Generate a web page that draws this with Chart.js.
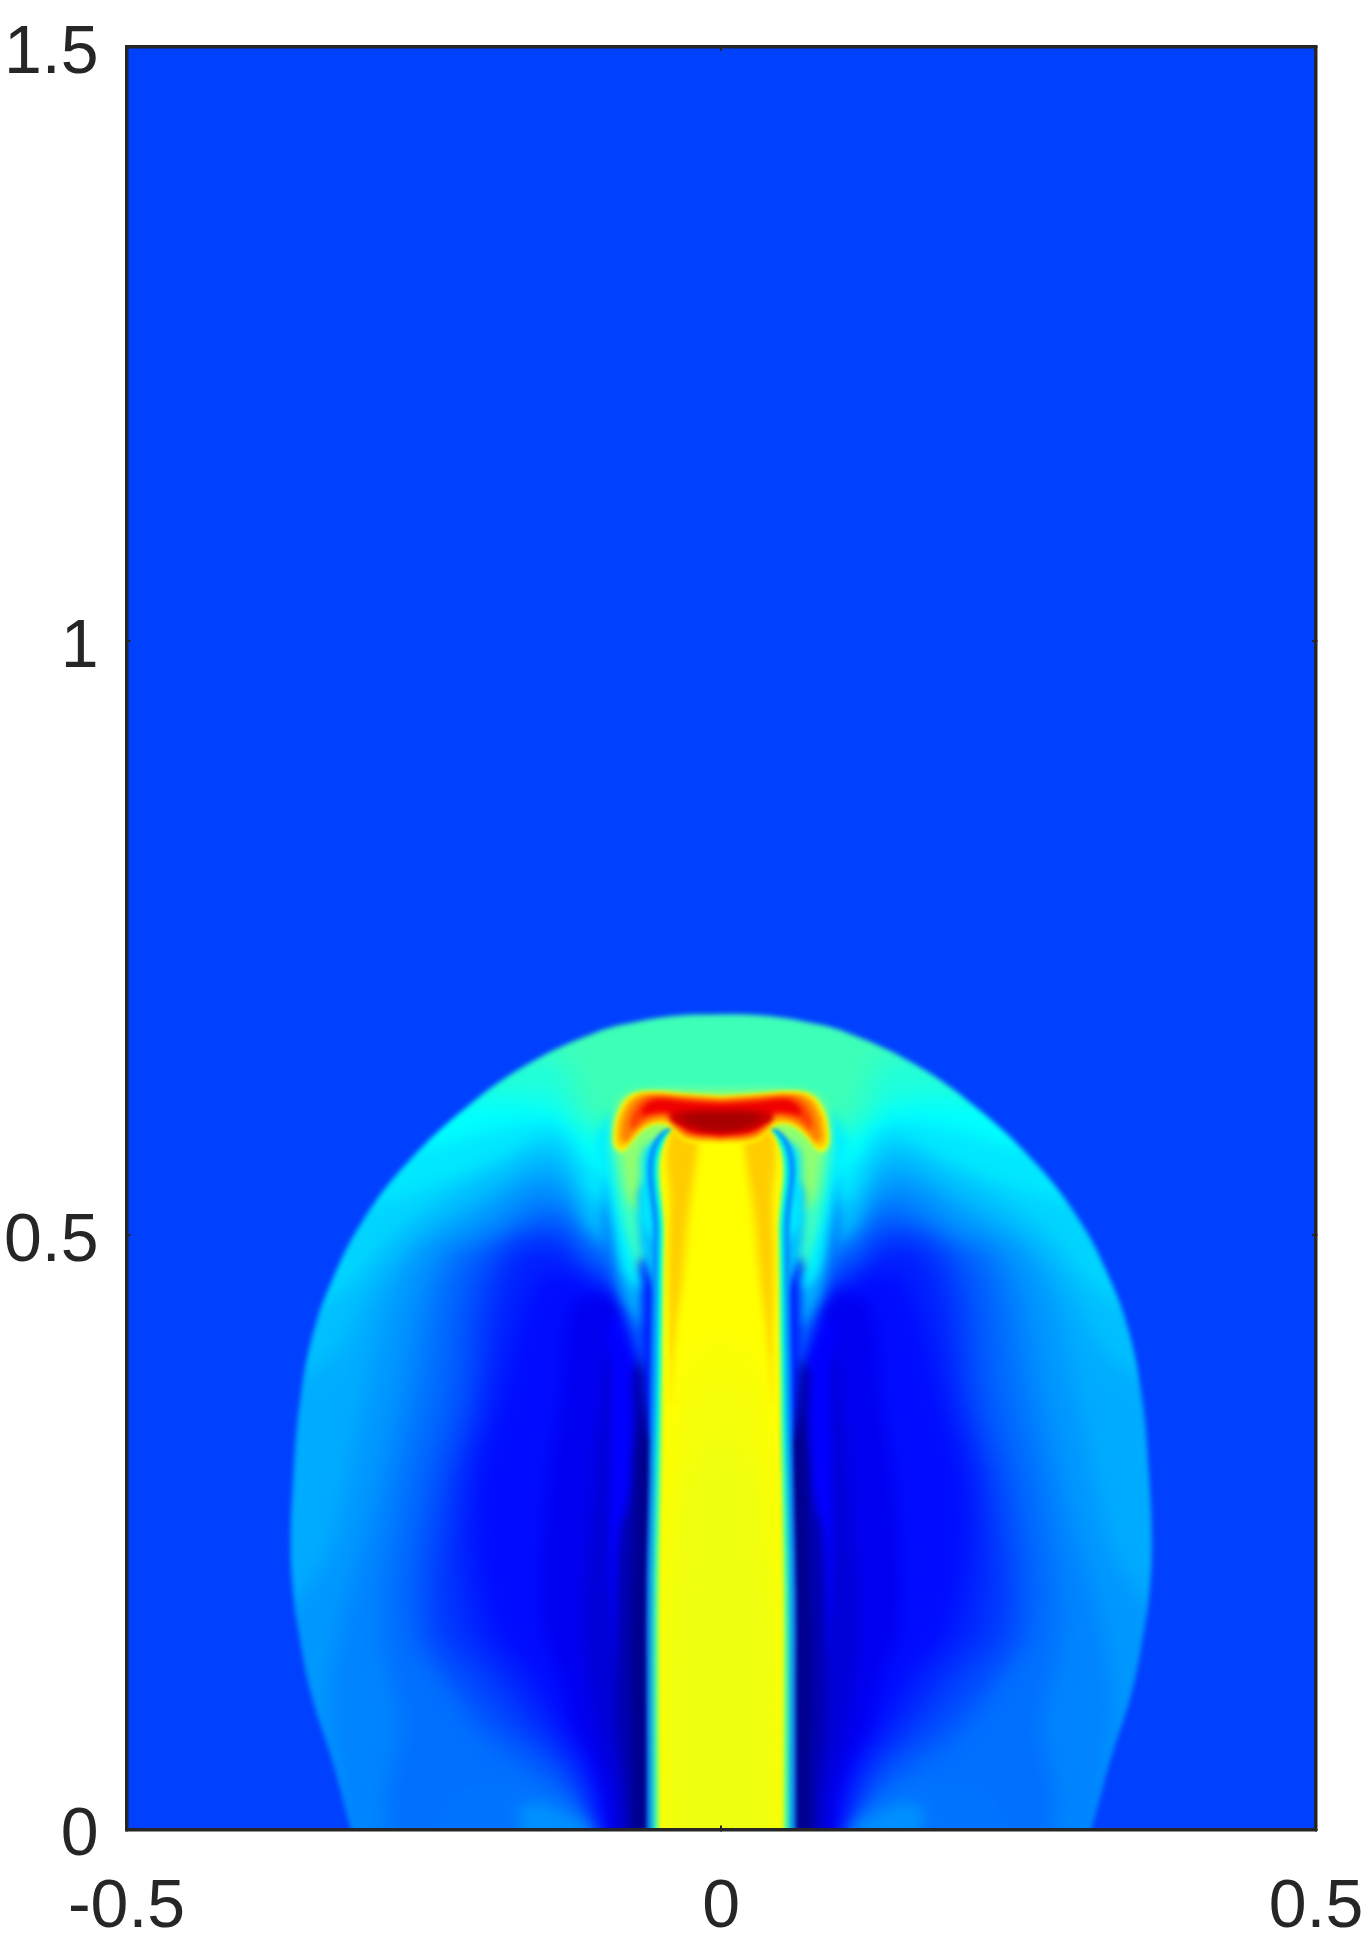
<!DOCTYPE html>
<html>
<head>
<meta charset="utf-8">
<style>
  html, body { margin: 0; padding: 0; background: #fff; }
  #wrap { width: 1369px; height: 1940px; }
</style>
<script src="https://cdn.jsdelivr.net/npm/chart.js@4"></script>
</head>
<body>
<div id="wrap"><canvas id="myChart"></canvas></div>
<script>
// tick labels
const xTicks = [-0.5, 0, 0.5];
const yTicks = [0, 0.5, 1, 1.5];

// contours: half width from the axis (R) and height (Y)
const fieldR = [0.6, 0.6, 0.6, 0.6];
const fieldY = [-0.1, 0.7, 1.6, 1.6];

const shockR = [0.300, 0.311, 0.327, 0.345, 0.356, 0.360, 0.362, 0.3595, 0.354, 0.343, 0.326, 0.301, 0.264, 0.214, 0.161, 0.105, 0.07, 0.035, 0];
const shockY = [-0.03, 0, 0.058, 0.115, 0.17, 0.2, 0.24, 0.30, 0.3615, 0.418, 0.465, 0.513, 0.561, 0.608, 0.645, 0.671, 0.68, 0.685, 0.686];

// path of the levels outside the shock, the field is painted back over it
const edgeR = [0.32, 0.331, 0.347, 0.363, 0.374, 0.382, 0.381, 0.374, 0.363, 0.346, 0.321, 0.284, 0.234, 0.181];
const edgeY = [-0.03, 0, 0.058, 0.115, 0.162, 0.232, 0.277, 0.3615, 0.418, 0.465, 0.513, 0.561, 0.608, 0.645];

const lv1R = edgeR.concat([0.14, 0.125, 0.115, 0.06, 0]);
const lv1Y = edgeY.concat([0.65, 0.63, 0.60, 0.58, 0.57]);
const lv2R = edgeR.slice(0, 13).concat([0.185, 0.16, 0.142, 0.122, 0.06, 0]);
const lv2Y = edgeY.slice(0, 13).concat([0.615, 0.613, 0.61, 0.59, 0.56, 0.55]);
const lv3R = edgeR.slice(0, 12).concat([0.225, 0.19, 0.142, 0.125, 0.11, 0]);
const lv3Y = edgeY.slice(0, 12).concat([0.58, 0.59, 0.595, 0.58, 0.56, 0.53]);
const lv4R = edgeR.slice(0, 11).concat([0.262, 0.22, 0.18, 0.142, 0.12, 0.105, 0]);
const lv4Y = edgeY.slice(0, 11).concat([0.535, 0.55, 0.567, 0.584, 0.56, 0.53, 0.5]);
const lv5R = edgeR.slice(0, 9).concat([0.31, 0.275, 0.235, 0.195, 0.142, 0.112, 0]);
const lv5Y = edgeY.slice(0, 9).concat([0.46, 0.50, 0.53, 0.552, 0.572, 0.53, 0.48]);
const lv6R = edgeR.slice(0, 8).concat([0.325, 0.295, 0.262, 0.22, 0.18, 0.142, 0.108, 0]);
const lv6Y = edgeY.slice(0, 8).concat([0.40, 0.45, 0.49, 0.52, 0.54, 0.56, 0.50, 0.45]);
const lv7R = edgeR.slice(0, 5).concat([0.332, 0.318, 0.30, 0.265, 0.21, 0.142, 0.105, 0]);
const lv7Y = edgeY.slice(0, 5).concat([0.23, 0.277, 0.36, 0.474, 0.515, 0.548, 0.48, 0.42]);
const lv8R = [0.30, 0.32, 0.325, 0.33, 0.32, 0.305, 0.29, 0.272, 0.245, 0.2, 0.142, 0.1, 0];
const lv8Y = [-0.03, 0.02, 0.06, 0.1, 0.171, 0.225, 0.277, 0.36, 0.474, 0.505, 0.535, 0.46, 0.40];
const lv9R = [0.275, 0.28, 0.27, 0.285, 0.273, 0.255, 0.231, 0.19, 0.142, 0.115, 0];
const lv9Y = [-0.03, 0.03, 0.087, 0.171, 0.277, 0.36, 0.474, 0.50, 0.525, 0.5, 0.44];
const lv10R = [0.11, 0.12, 0.16, 0.2, 0.23, 0.262, 0.255, 0.236, 0.217, 0.18, 0.142, 0.115, 0];
const lv10Y = [-0.03, 0.02, 0.05, 0.08, 0.12, 0.171, 0.277, 0.36, 0.474, 0.495, 0.515, 0.49, 0.43];
const lv11R = [0.105, 0.115, 0.15, 0.186, 0.225, 0.247, 0.24, 0.219, 0.2, 0.142, 0.115, 0];
const lv11Y = [-0.03, 0.02, 0.06, 0.087, 0.13, 0.171, 0.277, 0.36, 0.474, 0.505, 0.48, 0.42];
const lv12R = [0.1, 0.11, 0.135, 0.165, 0.2, 0.234, 0.228, 0.207, 0.188, 0.142, 0.115, 0];
const lv12Y = [-0.03, 0.02, 0.06, 0.087, 0.13, 0.171, 0.277, 0.36, 0.474, 0.497, 0.47, 0.41];
const lv13R = [0.098, 0.105, 0.125, 0.148, 0.18, 0.212, 0.218, 0.198, 0.175, 0.142, 0.115, 0];
const lv13Y = [-0.03, 0.02, 0.06, 0.087, 0.13, 0.171, 0.277, 0.36, 0.474, 0.488, 0.465, 0.40];
const lv14R = [0.096, 0.1, 0.115, 0.134, 0.16, 0.192, 0.205, 0.185, 0.155, 0.13, 0.11, 0];
const lv14Y = [-0.03, 0.02, 0.06, 0.087, 0.13, 0.171, 0.277, 0.36, 0.46, 0.468, 0.455, 0.39];
const lv15R = [0.094, 0.098, 0.11, 0.125, 0.135, 0.15, 0.147, 0.135, 0.125, 0.1, 0];
const lv15Y = [-0.03, 0.02, 0.06, 0.087, 0.13, 0.171, 0.277, 0.36, 0.44, 0.45, 0.38];
const lv16R = [0.09, 0.092, 0.105, 0.115, 0.108, 0.1, 0.09, 0];
const lv16Y = [-0.03, 0.03, 0.087, 0.171, 0.277, 0.36, 0.4, 0.37];
const stripeR = [0.085, 0.093, 0.093, 0.092, 0.09, 0];
const stripeY = [0.12, 0.2, 0.3, 0.38, 0.43, 0.43];
const lv17R = [0.082, 0.082, 0.088, 0.088, 0.085, 0.078, 0.074, 0.066, 0];
const lv17Y = [-0.03, 0.03, 0.087, 0.171, 0.25, 0.277, 0.33, 0.40, 0.40];
const lv18R = [0.075, 0.075, 0.076, 0.073, 0.072, 0.068, 0.06, 0];
const lv18Y = [-0.03, 0.05, 0.15, 0.25, 0.3, 0.35, 0.40, 0.40];

// the two faint streaks at the bottom
const lobeOuterR = [0.1, 0.108, 0.13, 0.16, 0.2, 0.23, 0.25];
const lobeOuterY = [-0.03, 0, 0.018, 0.036, 0.04, 0.025, -0.03];
const lobeInnerR = [0.108, 0.115, 0.13, 0.155, 0.17, 0.16];
const lobeInnerY = [-0.03, 0, 0.012, 0.022, 0.015, -0.03];

// skirt under the head, the lower colours run out into a thin filament
const skirt0R = [0.066, 0.08, 0.092, 0.098, 0.09, 0];
const skirt0Y = [0.39, 0.43, 0.47, 0.5, 0.53, 0.53];
const skirt1R = [0.068, 0.082, 0.09, 0.097, 0.098, 0.09, 0];
const skirt1Y = [0.425, 0.45, 0.49, 0.52, 0.54, 0.555, 0.55];
const skirt2R = [0.07, 0.082, 0.09, 0.096, 0.104, 0.104, 0.08, 0];
const skirt2Y = [0.455, 0.47, 0.51, 0.54, 0.565, 0.585, 0.61, 0.61];
const skirt3R = [0.07, 0.082, 0.09, 0.094, 0.09, 0.07, 0];
const skirt3Y = [0.47, 0.51, 0.55, 0.58, 0.605, 0.622, 0.626];
const skirt4R = [0.068, 0.078, 0.085, 0.089, 0.087, 0.07, 0];
const skirt4Y = [0.52, 0.53, 0.565, 0.59, 0.61, 0.62, 0.622];

// strip between skirt and jet
const strip0R = [0.06, 0.066, 0.067, 0.066, 0];
const strip0Y = [0.33, 0.38, 0.46, 0.48, 0.49];
const strip1R = [0.05, 0.066, 0.069, 0.068, 0.05, 0];
const strip1Y = [0.45, 0.48, 0.52, 0.54, 0.55, 0.55];
const strip2R = [0.05, 0.066, 0.067, 0.067, 0.063, 0.05, 0];
const strip2Y = [0.49, 0.51, 0.54, 0.565, 0.575, 0.58, 0.58];

// jet column and its rim
const jetY = [-0.03, 0.1, 0.2, 0.3, 0.4, 0.5, 0.58, 0.6];
const jetR = [0.0505, 0.0505, 0.0505, 0.049, 0.048, 0.0465, 0.045, 0];
const rimBlueR = [0.0625, 0.0625, 0.0625, 0.0605, 0.059, 0.0575, 0.056, 0];
const rimCyanR = [0.057, 0.057, 0.057, 0.0555, 0.054, 0.0525, 0.051, 0];
const rimLimeR = [0.0525, 0.0525, 0.0525, 0.051, 0.05, 0.0485, 0.047, 0];

// orange sheath and the yellow wedge inside it
const sheath0R = [0.041, 0.045, 0.044, 0.042, 0];
const sheath0Y = [0.37, 0.46, 0.52, 0.58, 0.6];
const sheath1R = [0.04, 0.042, 0.041, 0.04, 0];
const sheath1Y = [0.40, 0.48, 0.53, 0.59, 0.6];
const wedge0R = [0.043, 0.04, 0.036, 0.03, 0.022, 0.018, 0];
const wedge0Y = [0.36, 0.42, 0.46, 0.52, 0.57, 0.6, 0.6];
const wedge1R = [0.042, 0.037, 0.031, 0.025, 0.018, 0.014, 0];
const wedge1Y = [0.36, 0.42, 0.46, 0.52, 0.57, 0.6, 0.6];

// greener middle of the jet, strongest at the bottom
const core0R = [0.046, 0.046, 0.04, 0.028, 0];
const core0Y = [-0.03, 0.25, 0.34, 0.40, 0.42];
const core1R = [0.044, 0.044, 0.036, 0.024, 0];
const core1Y = [-0.03, 0.2, 0.3, 0.36, 0.38];
const core2R = [0.042, 0.042, 0.034, 0.02, 0];
const core2Y = [-0.03, 0.15, 0.25, 0.31, 0.33];

// head, outer yellow to dark red (from bottom middle over the tip to top middle)
const head0R = [0, 0.028, 0.0392, 0.0448, 0.0547, 0.0659, 0.0743, 0.0827, 0.0897, 0.0902, 0.0855, 0.0757, 0.0575, 0.031, 0];
const head0Y = [0.5773, 0.5788, 0.587, 0.592, 0.5936, 0.5886, 0.5802, 0.5703, 0.5745, 0.5886, 0.6054, 0.618, 0.621, 0.619, 0.617];
const headMidR = [0, 0.027, 0.0385, 0.0448, 0.0547, 0.0659, 0.0738, 0.082, 0.0875, 0.0882, 0.0842, 0.0745, 0.0575, 0.031, 0];
const headMidY = [0.579, 0.581, 0.5885, 0.5945, 0.5955, 0.5905, 0.583, 0.574, 0.5765, 0.5878, 0.604, 0.6165, 0.6195, 0.6178, 0.6157];
const head1R = [0, 0.0266, 0.0378, 0.0448, 0.0547, 0.0659, 0.0734, 0.0795, 0.0835, 0.0838, 0.0805, 0.072, 0.0575, 0.031, 0];
const head1Y = [0.5807, 0.583, 0.59, 0.597, 0.5976, 0.5928, 0.5858, 0.579, 0.5808, 0.589, 0.6026, 0.6145, 0.618, 0.6166, 0.6144];
const head2R = [0, 0.0266, 0.0378, 0.0448, 0.0547, 0.0645, 0.0705, 0.0757, 0.0768, 0.074, 0.067, 0.0575, 0.031, 0];
const head2Y = [0.583, 0.5858, 0.594, 0.6012, 0.6012, 0.598, 0.593, 0.589, 0.593, 0.603, 0.6125, 0.616, 0.6144, 0.6124];
const head3R = [0, 0.0266, 0.036, 0.0448, 0.0575, 0.067, 0.064, 0.055, 0.031, 0];
const head3Y = [0.5845, 0.588, 0.596, 0.603, 0.603, 0.602, 0.609, 0.614, 0.6125, 0.6105];
const head4R = [0, 0.015, 0.03, 0.043, 0.04, 0.02, 0];
const head4Y = [0.586, 0.587, 0.591, 0.598, 0.603, 0.606, 0.606];
const head5R = [0, 0.012, 0.024, 0.032, 0.03, 0.015, 0];
const head5Y = [0.5885, 0.5895, 0.593, 0.598, 0.601, 0.603, 0.603];

// painted from the back to the front: contour, colour, blur, kind
const layers = [
    [fieldR, fieldY, "#3dffb8", 0],
    [lv1R, lv1Y, "#20ffdc", 14], [lv2R, lv2Y, "#00ffff", 12], [lv3R, lv3Y, "#00e8ff", 8],
    [lv4R, lv4Y, "#00d4ff", 8], [lv5R, lv5Y, "#00c0ff", 8], [lv6R, lv6Y, "#00acff", 10],
    [lv7R, lv7Y, "#0098ff", 10], [lv8R, lv8Y, "#0084ff", 10], [lv9R, lv9Y, "#0070ff", 10],
    [lv10R, lv10Y, "#005cff", 10], [lv11R, lv11Y, "#0048ff", 10], [lv12R, lv12Y, "#0034ff", 10],
    [lv13R, lv13Y, "#0020ff", 10], [lv14R, lv14Y, "#000cff", 10], [lv15R, lv15Y, "#0000f0", 8],
    [lv16R, lv16Y, "#0000d8", 6], [stripeR, stripeY, "#0000ff", 4],
    [lv17R, lv17Y, "#0000b0", 4], [lv18R, lv18Y, "#000090", 3],
    [lobeOuterR, lobeOuterY, "#0074ff", 8, "lobe"], [lobeInnerR, lobeInnerY, "#0090ff", 7, "lobe"],
    [shockR, shockY, "#0040ff", 2.5, "outside"],
    [skirt0R, skirt0Y, "#0070ff", 7], [skirt1R, skirt1Y, "#00b0ff", 6], [skirt2R, skirt2Y, "#00f0ff", 5],
    [skirt3R, skirt3Y, "#40ffc0", 5], [skirt4R, skirt4Y, "#90ff70", 5],
    [strip0R, strip0Y, "#0020ff", 5], [strip1R, strip1Y, "#00c0ff", 5], [strip2R, strip2Y, "#00e8ff", 4],
    [rimBlueR, jetY, "#0090ff", 2], [rimCyanR, jetY, "#00ffe0", 2], [rimLimeR, jetY, "#c8ff38", 2],
    [jetR, jetY, "#ffff00", 2],
    [sheath0R, sheath0Y, "#ffe400", 3], [sheath1R, sheath1Y, "#ffcc00", 3],
    [wedge0R, wedge0Y, "#ffe400", 3], [wedge1R, wedge1Y, "#ffff00", 3],
    [core0R, core0Y, "#faff06", 10], [core1R, core1Y, "#f5ff0b", 10], [core2R, core2Y, "#eeff10", 10],
    [head0R, head0Y, "#ffff00", 2.5], [headMidR, headMidY, "#ffc000", 2.5], [head1R, head1Y, "#ff8000", 2.5],
    [head2R, head2Y, "#ff4000", 2.5], [head3R, head3Y, "#f00000", 2.5],
    [head4R, head4Y, "#c80000", 2.5], [head5R, head5Y, "#a80000", 2.5]
];

// one half goes up on the left, then comes back down on the right
function mirrored(r, y) {
    const left = r.map((v, i) => ({ x: -v, y: y[i] }));
    const right = r.map((v, i) => ({ x: v, y: y[i] })).reverse();
    return left.concat(right);
}

// the blue field around the shock: plot corners, then back along the shock
function outside(r, y) {
    const corners = [{ x: 0.6, y: -0.1 }, { x: 0.6, y: 1.6 }, { x: -0.6, y: 1.6 }, { x: -0.6, y: -0.1 }];
    return corners.concat(mirrored(r, y));
}

function shape(points, color, blur, order) {
    return {
        data: points,
        showLine: true,
        fill: "shape",
        backgroundColor: color,
        borderColor: "transparent",
        borderWidth: 0,
        pointRadius: 0,
        tension: 0.4,
        capBezierPoints: false,
        order: order,
        blur: blur
    };
}

const datasets = [];
let order = 1000;
for (const [r, y, color, blur, kind] of layers) {
    if (kind === "lobe") {
        datasets.push(shape(r.map((v, i) => ({ x: -v, y: y[i] })), color, blur, order--));
        datasets.push(shape(r.map((v, i) => ({ x: v, y: y[i] })), color, blur, order--));
    } else if (kind === "outside") {
        datasets.push(shape(outside(r, y), color, blur, order--));
    } else {
        datasets.push(shape(mirrored(r, y), color, blur, order--));
    }
}

const ink = "#262626";
const labelFont = { family: "'Liberation Sans', Arial, sans-serif", size: 68 };

function axis(position, min, max, ticks, showLabels, size, padding, labelOffset) {
    return {
        position: position,
        min: min,
        max: max,
        afterBuildTicks: (scale) => { scale.ticks = ticks.map((value) => ({ value })); },
        afterFit: (scale) => {
            if (position === "left" || position === "right") scale.width = size;
            else scale.height = size;
            scale.paddingTop = scale.paddingBottom = scale.paddingLeft = scale.paddingRight = 0;
        },
        border: { display: true, color: ink, width: 3.5, z: 2 },
        grid: { drawOnChartArea: false, drawTicks: true, tickLength: -4, color: ink, lineWidth: 2, z: 1 },
        ticks: {
            display: showLabels,
            color: ink,
            font: labelFont,
            padding: padding,
            labelOffset: labelOffset,
            autoSkip: false,
            maxRotation: 0,
            callback: (value) => String(value)
        }
    };
}

// each fill has its own blur so the bands run together like the shaded original
function blurOf(chart, index) {
    const set = chart.data.datasets[index];
    return set && set.blur ? "blur(" + set.blur + "px)" : "none";
}
const soften = {
    id: "soften",
    beforeDatasetsDraw(chart) { chart.ctx.filter = blurOf(chart, 0); },
    afterDatasetDraw(chart, args) { chart.ctx.filter = blurOf(chart, args.index + 1); },
    afterDatasetsDraw(chart) { chart.ctx.filter = "none"; }
};

new Chart(document.getElementById("myChart"), {
    type: "scatter",
    data: { datasets },
    plugins: [soften],
    options: {
        responsive: true,
        maintainAspectRatio: false,
        animation: false,
        layout: { padding: { top: 47, right: 53, bottom: 0, left: 0 } },
        plugins: { legend: { display: false }, tooltip: { enabled: false } },
        scales: {
            x: axis("bottom", -0.5, 0.5, xTicks, true, 110.5, 42, 0),
            y: axis("left", 0, 1.5, yTicks, true, 126.5, 32, 7),
            xTop: axis("top", -0.5, 0.5, xTicks, false, 0, 0, 0),
            yRight: axis("right", 0, 1.5, yTicks, false, 0, 0, 0)
        }
    }
});
</script>
</body>
</html>
